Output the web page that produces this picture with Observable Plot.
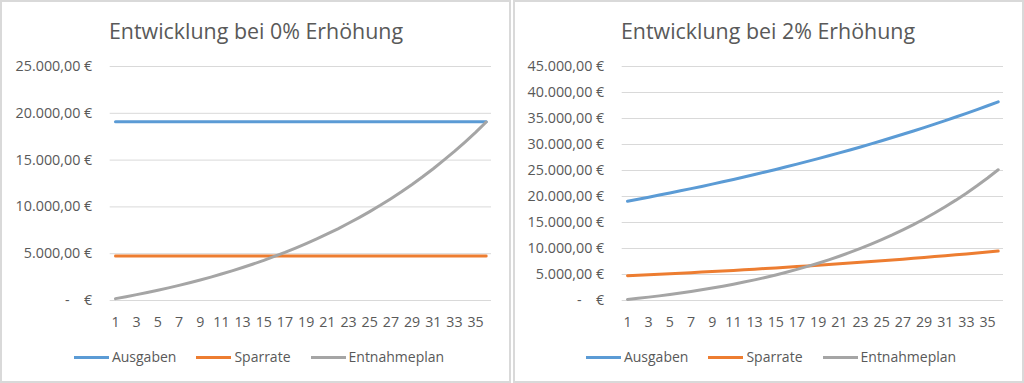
<!DOCTYPE html>
<html>
<head>
<meta charset="utf-8">
<script src="https://cdn.jsdelivr.net/npm/d3@7"></script>
<script src="https://cdn.jsdelivr.net/npm/@observablehq/plot@0.6"></script>
<style>
  body { margin: 0; background: #fff; }
  #wrap { position: relative; width: 1024px; height: 383px; background: #fff; overflow: hidden; font-family: "Open Sans", sans-serif; color: #595959; }
  .border { position: absolute; top: 0; height: 383px; box-sizing: border-box; border: 2px solid #d9d9d9; }
  .title { position: absolute; top: 14px; width: 512px; text-align: center; font-size: 21.4px; line-height: 34px; color: #595959; }
  .plot { position: absolute; top: 55px; }
  .legend { position: absolute; top: 347px; width: 512px; display: flex; justify-content: center; gap: 20px; font-size: 14px; line-height: 20px; }
  .item { display: flex; align-items: center; gap: 3px; }
  .sw { width: 35px; height: 3px; }
</style>
</head>
<body>
<div id="wrap"></div>
<script>
// ---- Data ----
const years = [1,2,3,4,5,6,7,8,9,10,11,12,13,14,15,16,17,18,19,20,21,22,23,24,25,26,27,28,29,30,31,32,33,34,35,36];
const xTicks = [1,3,5,7,9,11,13,15,17,19,21,23,25,27,29,31,33,35];
const seriesNames = ["Ausgaben", "Sparrate", "Entnahmeplan"];
const seriesColors = ["#5B9BD5", "#ED7D31", "#A5A5A5"];

const titles = ["Entwicklung bei 0% Erhöhung", "Entwicklung bei 2% Erhöhung"];
const yTicks0 = [0, 5000, 10000, 15000, 20000, 25000];
const yTicks2 = [0, 5000, 10000, 15000, 20000, 25000, 30000, 35000, 40000, 45000];

// 0% Erhöhung
const ausgaben0 = [19100,19100,19100,19100,19100,19100,19100,19100,19100,19100,19100,19100,19100,19100,19100,19100,19100,19100,19100,19100,19100,19100,19100,19100,19100,19100,19100,19100,19100,19100,19100,19100,19100,19100,19100,19100];
const sparrate0 = [4750,4750,4750,4750,4750,4750,4750,4750,4750,4750,4750,4750,4750,4750,4750,4750,4750,4750,4750,4750,4750,4750,4750,4750,4750,4750,4750,4750,4750,4750,4750,4750,4750,4750,4750,4750];
const entnahme0 = [200,410,630,860,1100,1350,1620,1900,2190,2500,2830,3170,3530,3900,4290,4710,5140,5600,6080,6580,7110,7660,8250,8860,9500,10170,10880,11620,12400,13220,14080,14990,15930,16930,17970,19070];

// 2% Erhöhung
const ausgaben2 = [19100,19480,19870,20270,20680,21090,21510,21940,22380,22830,23280,23750,24220,24710,25200,25710,26220,26750,27280,27830,28380,28950,29530,30120,30720,31340,31960,32600,33250,33920,34600,35290,36000,36720,37450,38200];
const sparrate2 = [4750,4850,4940,5040,5140,5240,5350,5460,5570,5680,5790,5910,6020,6150,6270,6390,6520,6650,6780,6920,7060,7200,7340,7490,7640,7790,7950,8110,8270,8440,8600,8780,8950,9130,9310,9500];
const entnahme2 = [200,420,650,890,1150,1430,1730,2050,2390,2750,3130,3540,3970,4430,4910,5430,5980,6560,7170,7820,8510,9240,10010,10830,11700,12610,13580,14600,15680,16820,18030,19300,20640,22060,23560,25140];

// ---- Helpers ----
function euro(v) {
  if (v === 0) return "-\u2002\u2002€";
  const s = d3.format(",.2f")(v).replace(/,/g, "X").replace(".", ",").replace(/X/g, ".");
  return s + " €";
}

const panels = [
  {ox: 0, title: titles[0], ticks: yTicks0, max: 25000, series: [ausgaben0, sparrate0, entnahme0]},
  {ox: 512, title: titles[1], ticks: yTicks2, max: 45000, series: [ausgaben2, sparrate2, entnahme2]}
];

const wrap = document.getElementById("wrap");

panels.forEach((p, pi) => {
  const border = document.createElement("div");
  border.className = "border";
  border.style.left = (p.ox + (pi === 0 ? 0 : 1)) + "px";
  border.style.width = "511px";
  wrap.appendChild(border);

  const t = document.createElement("div");
  t.className = "title";
  t.style.left = p.ox + "px";
  t.textContent = p.title;
  wrap.appendChild(t);

  const data = [];
  seriesNames.forEach((name, si) => {
    years.forEach((yr, i) => data.push({year: yr, value: p.series[si][i], series: name}));
  });

  const chart = Plot.plot({
    width: 512,
    height: 280,
    marginLeft: 109.7,
    marginRight: 21,
    marginTop: 11,
    marginBottom: 35,
    style: {fontFamily: "Open Sans, sans-serif", fontSize: "14px", color: "#595959", background: "transparent"},
    x: {type: "point", domain: years, padding: 0.5, round: false},
    y: {domain: [0, p.max]},
    color: {domain: seriesNames, range: seriesColors},
    marks: [
      Plot.ruleY(p.ticks, {stroke: "#d9d9d9", strokeWidth: 1}),
      Plot.axisY(p.ticks, {tickSize: 0, tickPadding: 18, tickFormat: euro, label: null, fontSize: 14.3, fontFamily: "Open Sans", fill: "#595959"}),
      Plot.axisX(xTicks, {tickSize: 0, tickPadding: 16, label: null, fontSize: 14.2, fontFamily: "Open Sans", fill: "#595959"}),
      Plot.line(data, {x: "year", y: "value", stroke: "series", z: "series", strokeWidth: 3, strokeLinejoin: "round", strokeLinecap: "round"})
    ]
  });
  const holder = document.createElement("div");
  holder.className = "plot";
  holder.style.left = p.ox + "px";
  holder.appendChild(chart);
  wrap.appendChild(holder);

  const lg = document.createElement("div");
  lg.className = "legend";
  lg.style.left = (p.ox + 3) + "px";
  seriesNames.forEach((name, si) => {
    const it = document.createElement("div");
    it.className = "item";
    const sw = document.createElement("div");
    sw.className = "sw";
    sw.style.background = seriesColors[si];
    const lb = document.createElement("span");
    lb.textContent = name;
    it.appendChild(sw);
    it.appendChild(lb);
    lg.appendChild(it);
  });
  wrap.appendChild(lg);
});
</script>
</body>
</html>
